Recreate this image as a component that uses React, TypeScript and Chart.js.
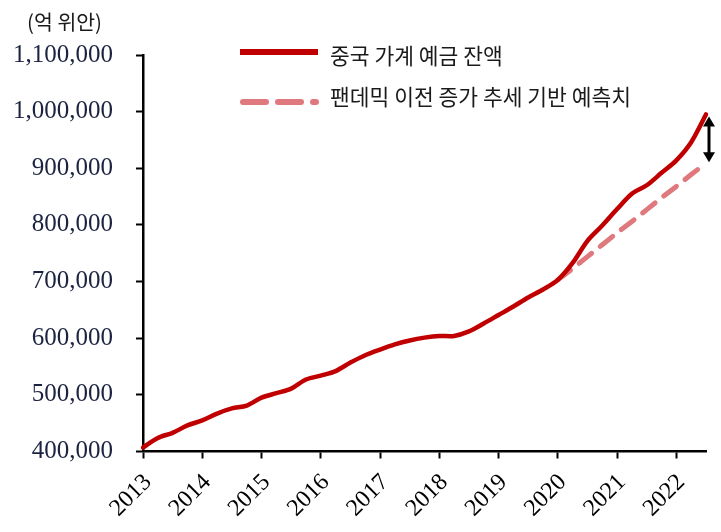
import React, { useEffect, useRef } from "react";
import { Chart, registerables } from "chart.js";

Chart.register(...registerables);

const periods = [
  "2013Q1", "2013Q2", "2013Q3", "2013Q4",
  "2014Q1", "2014Q2", "2014Q3", "2014Q4",
  "2015Q1", "2015Q2", "2015Q3", "2015Q4",
  "2016Q1", "2016Q2", "2016Q3", "2016Q4",
  "2017Q1", "2017Q2", "2017Q3", "2017Q4",
  "2018Q1", "2018Q2", "2018Q3", "2018Q4",
  "2019Q1", "2019Q2", "2019Q3", "2019Q4",
  "2020Q1", "2020Q2", "2020Q3", "2020Q4",
  "2021Q1", "2021Q2", "2021Q3", "2021Q4",
  "2022Q1", "2022Q2", "2022Q3",
];

const deposits = [
  407000, 424000, 433000, 446000,
  455000, 467000, 476000, 481000,
  495000, 503000, 511000, 527000,
  534000, 542000, 557000, 570000,
  580000, 589000, 596000, 601000,
  604000, 604000, 612000, 626000,
  641000, 656000, 672000, 686000,
  703000, 733000, 772000, 799000,
  828000, 855000, 870000, 892000,
  914000, 946000, 995000,
];

const trendStartIndex = 28;
const trendValues = [703000, 723000, 744000, 765000, 786000, 806000, 827000, 848000, 868000, 889000, 909000];

const trend = periods.map((_, i) => (i < trendStartIndex ? null : trendValues[i - trendStartIndex]));

const seriesNames = ["중국 가계 예금 잔액", "팬데믹 이전 증가 추세 기반 예측치"];
const unitLabel = "(억 위안)";

const yMin = 400000;
const yMax = 1100000;
const yStep = 100000;

const SOLID = "#C00000";
const DASH = "#E0797D";
const KFONT = '"Noto Sans CJK KR", "Noto Sans", sans-serif';
const SERIF = '"Times New Roman", "Liberation Serif", serif';

const overlayPlugin = {
  id: "overlay",
  afterDatasetsDraw(chart: any) {
    const { ctx, scales } = chart;
    const xs = scales.x;
    const ys = scales.y;
    const last = periods.length - 1;
    const x = xs.getPixelForValue(last) + 3;
    const yTop = ys.getPixelForValue(deposits[last]) + 2;
    const yBot = ys.getPixelForValue(trend[last] as number) - 1;
    ctx.save();
    ctx.strokeStyle = "#000";
    ctx.fillStyle = "#000";
    ctx.lineWidth = 3;
    ctx.beginPath();
    ctx.moveTo(x, yTop + 8);
    ctx.lineTo(x, yBot - 8);
    ctx.stroke();
    ctx.beginPath();
    ctx.moveTo(x, yTop);
    ctx.lineTo(x - 6, yTop + 10);
    ctx.lineTo(x + 6, yTop + 10);
    ctx.closePath();
    ctx.fill();
    ctx.beginPath();
    ctx.moveTo(x, yBot);
    ctx.lineTo(x - 6, yBot - 10);
    ctx.lineTo(x + 6, yBot - 10);
    ctx.closePath();
    ctx.fill();
    ctx.restore();
  },
  afterDraw(chart: any) {
    const { ctx } = chart;
    ctx.save();
    ctx.font = `20.5px ${KFONT}`;
    ctx.fillStyle = "#1a1a1a";
    ctx.textBaseline = "middle";
    ctx.textAlign = "left";
    ctx.fillText(unitLabel, 27, 22);
    ctx.lineWidth = 6;
    ctx.strokeStyle = SOLID;
    ctx.lineCap = "butt";
    ctx.beginPath();
    ctx.moveTo(240, 52);
    ctx.lineTo(318, 52);
    ctx.stroke();
    ctx.strokeStyle = DASH;
    ctx.lineCap = "round";
    ctx.setLineDash([23, 12]);
    ctx.beginPath();
    ctx.moveTo(243, 102);
    ctx.lineTo(316, 102);
    ctx.stroke();
    ctx.setLineDash([]);
    ctx.font = `21.5px ${KFONT}`;
    ctx.fillStyle = "#1a1a1a";
    ctx.fillText(seriesNames[0], 330, 56);
    ctx.fillText(seriesNames[1], 330, 97);
    ctx.restore();
  },
};

export default function App() {
  const ref = useRef<HTMLCanvasElement | null>(null);

  useEffect(() => {
    if (!ref.current) return;
    const chart = new Chart(ref.current, {
      type: "line",
      data: {
        labels: periods,
        datasets: [
          {
            label: seriesNames[0],
            data: deposits,
            borderColor: SOLID,
            backgroundColor: SOLID,
            borderWidth: 4.5,
            pointRadius: 0,
            tension: 0.3,
            borderCapStyle: "round",
            borderJoinStyle: "round",
          },
          {
            label: seriesNames[1],
            data: trend,
            borderColor: DASH,
            backgroundColor: DASH,
            borderWidth: 5,
            borderDash: [16, 11],
            borderCapStyle: "round",
            pointRadius: 0,
            tension: 0,
            spanGaps: false,
          },
        ],
      },
      options: {
        responsive: false,
        animation: false,
        layout: { padding: { top: 55, right: 15, left: 0, bottom: 0 } },
        plugins: {
          legend: { display: false },
          tooltip: { enabled: false },
          title: { display: false },
        },
        scales: {
          x: {
            type: "category",
            offset: false,
            grid: {
              drawOnChartArea: false,
              drawTicks: true,
              tickLength: 7,
              tickWidth: 2,
              tickColor: (c: any) => (c.index % 4 === 0 ? "#000" : "rgba(0,0,0,0)"),
            },
            border: { display: true, color: "#000", width: 2.5 },
            ticks: {
              autoSkip: false,
              maxRotation: 45,
              minRotation: 45,
              padding: 10,
              labelOffset: 5,
              color: "#000",
              font: { family: SERIF, size: 24 },
              callback: (v: any, i: number) => (i % 4 === 0 ? periods[i].slice(0, 4) : ""),
            },
            afterFit: (s: any) => {
              s.height = 80.5;
              s.paddingRight = 0;
              s.paddingLeft = 0;
            },
          },
          y: {
            min: yMin,
            max: yMax,
            grid: {
              drawOnChartArea: false,
              drawTicks: true,
              tickLength: 7,
              tickWidth: 2,
              tickColor: "#000",
            },
            border: { display: true, color: "#000", width: 2.5 },
            ticks: {
              stepSize: yStep,
              padding: 23,
              color: "#1c2340",
              font: { family: SERIF, size: 25 },
              callback: (v: any) => Number(v).toLocaleString("en-US"),
            },
            afterFit: (s: any) => {
              s.width = 143;
            },
          },
        },
      },
      plugins: [overlayPlugin],
    });
    return () => chart.destroy();
  }, []);

  return (
    <div style={{ position: "fixed", left: 0, top: 0, width: 721, height: 532, background: "#fff" }}>
      <canvas ref={ref} width={721} height={532} style={{ display: "block" }} />
    </div>
  );
}
